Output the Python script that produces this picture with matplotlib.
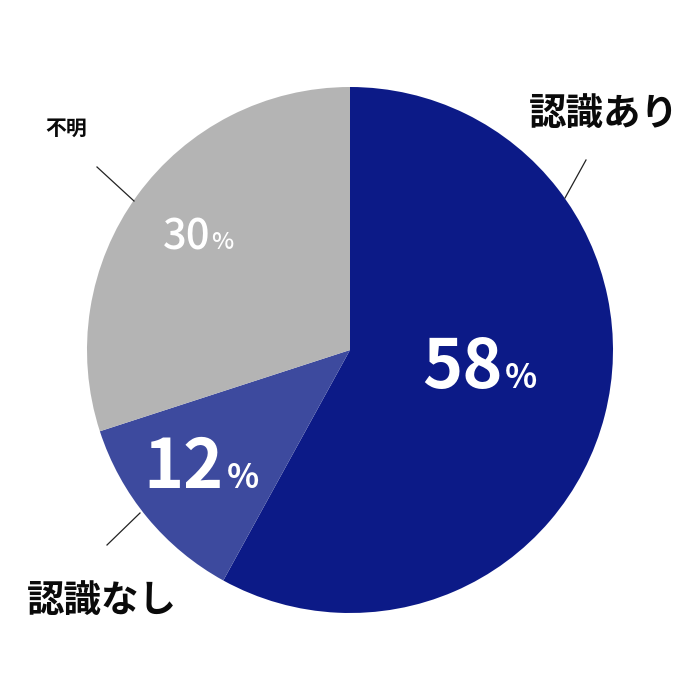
import matplotlib
matplotlib.use("Agg")
import matplotlib.pyplot as plt

categories = ["認識あり", "認識なし", "不明"]
values = [58, 12, 30]
colors = ["#0c1a87", "#3d4a9e", "#b4b4b4"]

plt.rcParams['font.family'] = ['Noto Sans CJK JP', 'DejaVu Sans']

fig = plt.figure(figsize=(7, 7), dpi=100)
ax = fig.add_axes([0, 0, 1, 1])
ax.pie(values, colors=colors, startangle=90, counterclock=False,
       radius=263, center=(350, 350), wedgeprops=dict(linewidth=0))
ax.set_xlim(0, 700)
ax.set_ylim(0, 700)
ax.set_aspect('equal')
ax.axis('off')

def Y(y):
    return 700 - y

# percentage labels: (number right edge x, baseline y, number size, % size, weight, gap)
pct_layout = [
    (503, 388, 49, 24, 'bold', 2),
    (224, 488, 49, 24, 'bold', 3),
    (211, 249, 30, 17, 'medium', 0),
]
for v, (x, yb, s1, s2, w, g) in zip(values, pct_layout):
    ax.text(x, Y(yb), str(v), color='white', fontsize=s1, fontweight=w,
            ha='right', va='baseline')
    ax.text(x + g, Y(yb), '%', color='white', fontsize=s2, fontweight=w,
            ha='left', va='baseline')

# category labels
ax.text(604, Y(113), categories[0], fontsize=27, fontweight='bold',
        ha='center', va='center', color='#0a0a0a')
ax.text(102, Y(600), categories[1], fontsize=27, fontweight='bold',
        ha='center', va='center', color='#0a0a0a')
ax.text(66, Y(128), categories[2], fontsize=15, fontweight='bold',
        ha='center', va='center', color='#0a0a0a')

# leader lines
ax.plot([565, 586], [Y(198), Y(160)], color='#222222', lw=0.9)
ax.plot([140, 107], [Y(513), Y(545)], color='#222222', lw=0.9)
ax.plot([97, 134], [Y(167), Y(201)], color='#222222', lw=0.9)

fig.savefig("out.png", dpi=100)
